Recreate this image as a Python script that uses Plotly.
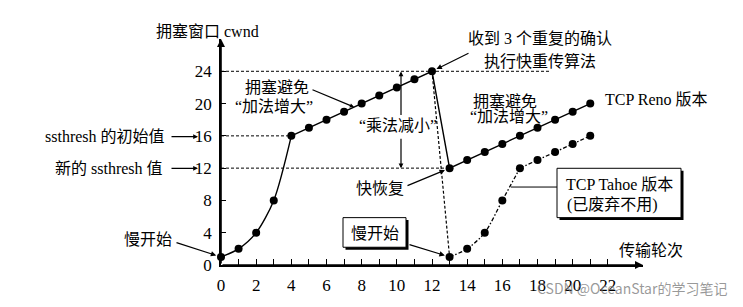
import plotly.graph_objects as go

# ---------------- data ----------------
reno_slow_x = [0, 1, 2, 3, 4]
reno_slow_y = [1, 2, 4, 8, 16]
reno_lin_x = [4, 5, 6, 7, 8, 9, 10, 11, 12, 13, 14, 15, 16, 17, 18, 19, 20, 21]
reno_lin_y = [16, 17, 18, 19, 20, 21, 22, 23, 24, 12, 13, 14, 15, 16, 17, 18, 19, 20]
reno_x = [0, 1, 2, 3, 4, 5, 6, 7, 8, 9, 10, 11, 12, 13, 14, 15, 16, 17, 18, 19, 20, 21]
reno_y = [1, 2, 4, 8, 16, 17, 18, 19, 20, 21, 22, 23, 24, 12, 13, 14, 15, 16, 17, 18, 19, 20]
tahoe_slow_x = [13, 14, 15, 16, 17]
tahoe_slow_y = [1, 2, 4, 8, 12]
tahoe_lin_x = [17, 18, 19, 20, 21]
tahoe_lin_y = [12, 13, 14, 15, 16]
tahoe_x = [13, 14, 15, 16, 17, 18, 19, 20, 21]
tahoe_y = [1, 2, 4, 8, 12, 13, 14, 15, 16]
drop_x = [12, 13]
drop_y = [24, 1]
ssthresh_init = 16
ssthresh_new = 12
cwnd_peak = 24
x_ticks = list(range(0, 23))
x_ticktext = [str(v) if v % 2 == 0 else "" for v in x_ticks]
y_ticks = [0, 4, 8, 12, 16, 20, 24]

# ---------------- layout helpers ----------------
W, H = 743, 307
L, R, B, T = 221, 643, 268, 39
PW, PH = R - L, B - T

def px(x):
    return (x - L) / PW

def py(y):
    return (B - y) / PH

FONT = "Liberation Serif, Noto Sans CJK SC, serif"
BLACK = "black"

fig = go.Figure()

# reference dashed lines
dot = dict(color=BLACK, width=1, dash="3px,2px")
fig.add_trace(go.Scatter(x=[0, 18.7], y=[cwnd_peak, cwnd_peak], mode="lines", line=dot, cliponaxis=False))
fig.add_trace(go.Scatter(x=[0, 4], y=[ssthresh_init, ssthresh_init], mode="lines", line=dot, cliponaxis=False))
fig.add_trace(go.Scatter(x=[0, 13], y=[ssthresh_new, ssthresh_new], mode="lines", line=dot, cliponaxis=False))
fig.add_trace(go.Scatter(x=drop_x, y=drop_y, mode="lines", line=dict(color=BLACK, width=1.2, dash="3px,2px"), cliponaxis=False))

# Reno
fig.add_trace(go.Scatter(x=reno_slow_x, y=reno_slow_y, mode="lines", line=dict(color=BLACK, width=1.4, shape="spline", smoothing=0.8), cliponaxis=False))
fig.add_trace(go.Scatter(x=reno_lin_x, y=reno_lin_y, mode="lines", line=dict(color=BLACK, width=1.4), cliponaxis=False))
fig.add_trace(go.Scatter(x=reno_x, y=reno_y, mode="markers", marker=dict(color=BLACK, size=8), cliponaxis=False))

# Tahoe
tdash = "4px,2px,1.5px,2px"
fig.add_trace(go.Scatter(x=tahoe_slow_x, y=tahoe_slow_y, mode="lines", line=dict(color=BLACK, width=1.3, dash=tdash, shape="spline", smoothing=0.8), cliponaxis=False))
fig.add_trace(go.Scatter(x=tahoe_lin_x, y=tahoe_lin_y, mode="lines", line=dict(color=BLACK, width=1.3, dash=tdash), cliponaxis=False))
fig.add_trace(go.Scatter(x=tahoe_x, y=tahoe_y, mode="markers", marker=dict(color=BLACK, size=8), cliponaxis=False))

ann = []

def text(x, y, s, size=16, xanchor="center", color=BLACK, family=FONT, align="center"):
    ann.append(dict(x=px(x), y=py(y), xref="paper", yref="paper", text=s, showarrow=False,
                    xanchor=xanchor, yanchor="middle", align=align,
                    font=dict(family=family, size=size, color=color)))

def arrow_px(x0, y0, x1, y1, head=2, size=0.9, width=1.2):
    # tail (x0,y0) -> head (x1,y1) in pixels
    ann.append(dict(x=px(x1), y=py(y1), xref="paper", yref="paper", ax=x0 - x1, ay=y0 - y1,
                    axref="pixel", ayref="pixel", text="", showarrow=True,
                    arrowhead=head, arrowsize=size, arrowwidth=width, arrowcolor=BLACK, standoff=0))

def arrow_data(x0px, y0px, xd, yd, head=2, size=0.9, width=1.2, standoff=4):
    hx = L + xd * PW / 24
    hy = B - yd * PH / 28
    ann.append(dict(x=xd, y=yd, xref="x", yref="y", ax=x0px - hx, ay=y0px - hy,
                    axref="pixel", ayref="pixel", text="", showarrow=True,
                    arrowhead=head, arrowsize=size, arrowwidth=width, arrowcolor=BLACK, standoff=standoff))

# axes arrows
ann.append(dict(x=24, y=0, xref="x", yref="y", ax=0, ay=0, axref="x", ayref="y", text="", showarrow=True,
                arrowhead=2, arrowsize=1, arrowwidth=1.6, arrowcolor=BLACK, standoff=0))
ann.append(dict(x=0, y=28, xref="x", yref="y", ax=0, ay=0, axref="x", ayref="y", text="", showarrow=True,
                arrowhead=2, arrowsize=1, arrowwidth=1.6, arrowcolor=BLACK, standoff=0))

text(207, 31, "拥塞窗口 cwnd")
text(167, 138, "ssthresh 的初始值", xanchor="right")
arrow_px(170, 138, 198, 138, size=0.8)
text(165, 170, "新的 ssthresh 值", xanchor="right")
arrow_px(170, 170, 198, 170, size=0.8)

text(148, 242, "慢开始")
arrow_data(175, 245, 0, 1, standoff=5)

text(277, 88, "拥塞避免")
text(274, 107, "“加法增大”")
arrow_px(311, 90, 354, 108, size=0.7)

text(540, 38, "收到 3 个重复的确认")
text(540, 61, "执行快重传算法")
arrow_data(470, 53, 12, 24, standoff=5)

text(471, 102, "拥塞避免", xanchor="left")
text(468, 118, "“加法增大”", xanchor="left")

text(603, 100, "TCP Reno 版本", xanchor="left")

text(398, 127, "“乘法减小”")
arrow_px(401, 117, 401, 72, size=0.8)
arrow_px(401, 139, 401, 170, size=0.8)

text(380, 190, "快恢复")
arrow_data(406, 188, 13, 12, standoff=5)

# boxes
shapes = []
def box(x0, y0, x1, y1):
    shapes.append(dict(type="rect", xref="paper", yref="paper", x0=px(x0 + 2.5), x1=px(x1 + 2.5),
                       y0=py(y0 + 2.5), y1=py(y1 + 2.5), fillcolor=BLACK, line=dict(width=0), layer="above"))
    shapes.append(dict(type="rect", xref="paper", yref="paper", x0=px(x0), x1=px(x1),
                       y0=py(y0), y1=py(y1), fillcolor="white", line=dict(color=BLACK, width=1), layer="above"))

box(343, 220, 406, 250)
text(375, 236, "慢开始")
arrow_data(408, 247, 13, 1, standoff=5)

box(557, 170, 681, 220)
text(564, 186, "TCP Tahoe 版本", xanchor="left")
text(565, 207, "(已废弃不用)", xanchor="left")
shapes.append(dict(type="line", xref="paper", yref="paper", x0=px(511), x1=px(557), y0=py(189), y1=py(189),
                   line=dict(color=BLACK, width=1)))

text(651, 253, "传输轮次")
text(632, 291, "CSDN @OceanStar的学习笔记", size=14, color="rgba(120,120,120,0.75)",
     family="Noto Sans CJK SC, Noto Sans, sans-serif")

fig.update_layout(
    width=W, height=H,
    margin=dict(l=L, r=W - R, t=T, b=H - B),
    paper_bgcolor="white", plot_bgcolor="white",
    showlegend=False,
    annotations=ann, shapes=shapes,
    xaxis=dict(range=[0, 24], tickmode="array", tickvals=x_ticks, ticktext=x_ticktext,
               ticks="inside", ticklen=6, tickwidth=1, tickcolor=BLACK,
               showline=True, linecolor=BLACK, linewidth=1.6, showgrid=False, zeroline=False,
               tickfont=dict(family=FONT, size=17, color=BLACK), ticklabelstandoff=4, fixedrange=True),
    yaxis=dict(range=[0, 28], tickmode="array", tickvals=y_ticks,
               ticks="inside", ticklen=5, tickwidth=1, tickcolor=BLACK,
               showline=True, linecolor=BLACK, linewidth=1.6, showgrid=False, zeroline=False,
               tickfont=dict(family=FONT, size=17, color=BLACK), ticklabelstandoff=4, fixedrange=True),
)

fig.write_html("out.html")
